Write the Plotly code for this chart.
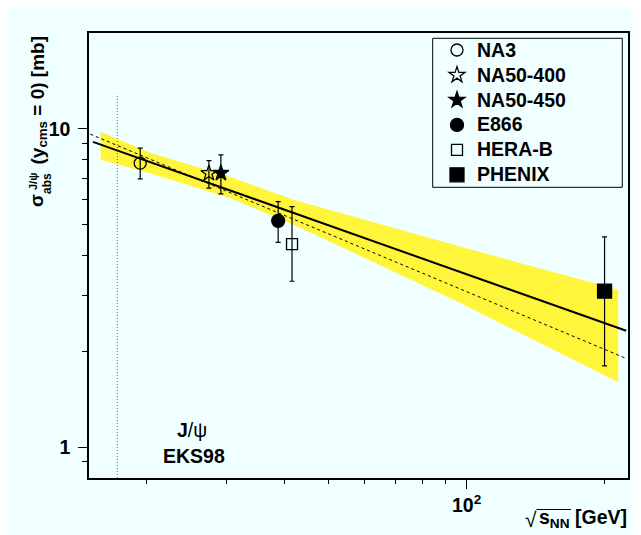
import math
import plotly.graph_objects as go

# ---------------- data ----------------
experiments = ["NA3", "NA50-400", "NA50-450", "E866", "HERA-B", "PHENIX"]
sqrt_s_nn = [19.4, 27.4, 29.1, 38.8, 41.6, 200.0]
sigma_abs = [7.80, 7.25, 7.26, 5.14, 4.34, 3.09]
err_plus = [0.90, 0.70, 1.02, 0.77, 1.36, 1.49]
err_minus = [0.84, 0.74, 1.01, 0.74, 1.02, 1.29]

band_x = [15.9, 20.3, 30.3, 42.1, 96.7, 214.3]
band_hi = [9.79, 8.42, 7.08, 5.98, 4.27, 3.12]
band_lo = [7.99, 7.26, 6.07, 4.99, 2.84, 1.60]

fit_x = [15.3, 223.0]
fit_y = [9.10, 2.32]
dash_x = [15.1, 221.0]
dash_y = [9.62, 1.91]

sps_x = [17.3, 17.3]
sps_y = [0.8, 12.9]

x_range = [15, 225]
y_range = [0.8, 20]
y_major = [1, 10]
y_major_text = ["1", "10"]
y_minor = [0.9, 2, 3, 4, 5, 6, 7, 8, 9]
x_major = [100]
x_major_text = ["10<sup>2</sup>"]
x_minor = [20, 30, 40, 50, 60, 70, 80, 90, 200]

# ---------------- styles ----------------
symbols = ["circle-open", "star-open", "star", "circle", "square-open", "square"]
msizes = [12, 12, 12, 13, 11, 14]
BG = "#F0FFFF"
YELLOW = "#FFF53B"
FONT = "Liberation Sans"


def lg(v):
    return math.log10(v)


fig = go.Figure()

fig.add_trace(go.Scatter(
    x=band_x + band_x[::-1], y=band_hi + band_lo[::-1],
    fill="toself", fillcolor=YELLOW, line=dict(width=0),
    mode="lines", showlegend=False, hoverinfo="skip"))

fig.add_trace(go.Scatter(x=sps_x, y=sps_y, mode="lines",
                         line=dict(color="#6e6e6e", width=1, dash="1px,2px"),
                         showlegend=False, hoverinfo="skip"))

fig.add_trace(go.Scatter(x=dash_x, y=dash_y, mode="lines",
                         line=dict(color="black", width=1, dash="3px,3px"),
                         showlegend=False))
fig.add_trace(go.Scatter(x=fit_x, y=fit_y, mode="lines",
                         line=dict(color="black", width=2),
                         showlegend=False))

for i, name in enumerate(experiments):
    fig.add_trace(go.Scatter(
        x=[sqrt_s_nn[i]], y=[sigma_abs[i]], mode="markers",
        name="<span style='font-size:19.5px'>" + name + "</span>",
        marker=dict(symbol=symbols[i], size=msizes[i], color="black",
                    line=dict(color="black", width=1.3)),
        error_y=dict(type="data", array=[err_plus[i]], arrayminus=[err_minus[i]],
                     color="black", thickness=1.2, width=2.5),
    ))

OFF = 8  # page body margin
W, H = 641, 535
L, T = 89 - OFF, 33 - OFF
pw, ph = 539, 445
R = W - L - pw
B = H - T - ph


def px2paper(px, py):
    """page pixel coords -> paper coords"""
    fx, fy = px - OFF, py - OFF
    return (fx - L) / pw, (T + ph - fy) / ph


shapes = []
lx0, ly0 = px2paper(432.7, 38.3)
lx1, ly1 = px2paper(622.3, 187.3)
shapes.append(dict(type="rect", xref="paper", yref="paper", x0=lx0, x1=lx1, y0=ly1, y1=ly0,
                   line=dict(color="black", width=1), fillcolor="rgba(0,0,0,0)"))
# overline of the square root in the x title
ox0, oy = px2paper(536.5, 509.5)
ox1, _ = px2paper(571, 509.5)
shapes.append(dict(type="line", xref="paper", yref="paper", x0=ox0, x1=ox1, y0=oy, y1=oy,
                   line=dict(color="black", width=1.2)))

annotations = []


def ann(text, px, py, size=19, xanchor="center", yanchor="middle", angle=0, bold=True):
    ax, ay = px2paper(px, py)
    annotations.append(dict(text=text, x=ax, y=ay, xref="paper", yref="paper",
                            showarrow=False, xanchor=xanchor, yanchor=yanchor,
                            textangle=angle,
                            font=dict(family=FONT, size=size, color="black",
                                      weight="bold" if bold else "normal")))


ann("<b>J</b>/ψ", 192, 430, size=19.5, bold=False)
ann("EKS98", 194, 456, size=19.5)
ann("s<sub>NN</sub> [GeV]", 629, 518, size=19.5, xanchor="right")
ann("√", 531, 519, size=21, bold=False)
ann("(y<sub>cms</sub> = 0) [mb]", 24, 34, size=19, xanchor="left", yanchor="top", angle=-90)
ann("σ", 24, 209, size=19, xanchor="left", yanchor="bottom", angle=-90)
ann("J/ψ", 33, 181, size=11, angle=-90)
ann("abs", 47, 184, size=12, angle=-90)

fig.update_layout(
    width=W, height=H, margin=dict(l=L, r=R, t=T, b=B),
    paper_bgcolor=BG, plot_bgcolor=BG,
    font=dict(family=FONT, size=19, color="black", weight="bold"),
    showlegend=True,
    legend=dict(x=px2paper(437, 0)[0], y=px2paper(0, 32.5)[1], xanchor="left", yanchor="top",
                bgcolor="rgba(0,0,0,0)", borderwidth=0,
                font=dict(family=FONT, size=16.9, color="black", weight="bold"),
                itemwidth=30, tracegroupgap=0),
    shapes=shapes, annotations=annotations,
    xaxis=dict(type="log", range=[lg(x_range[0]), lg(x_range[1])],
               showgrid=False, zeroline=False,
               showline=True, linecolor="black", linewidth=1.5, mirror=True,
               tickmode="array", tickvals=x_major, ticktext=x_major_text,
               ticks="outside", ticklen=9, tickwidth=1, tickcolor="black",
               ticklabelstandoff=0,
               minor=dict(tickmode="array", tickvals=x_minor, ticks="outside",
                          ticklen=4, tickwidth=1, tickcolor="black", showgrid=False),
               tickfont=dict(family=FONT, size=19.5, weight="bold")),
    yaxis=dict(type="log", range=[lg(y_range[0]), lg(y_range[1])],
               showgrid=False, zeroline=False,
               showline=True, linecolor="black", linewidth=1.5, mirror=True,
               tickmode="array", tickvals=y_major, ticktext=y_major_text,
               ticks="outside", ticklen=9, tickwidth=1, tickcolor="black",
               ticklabelstandoff=4,
               minor=dict(tickmode="array", tickvals=y_minor, ticks="outside",
                          ticklen=5, tickwidth=1, tickcolor="black", showgrid=False),
               tickfont=dict(family=FONT, size=19.5, weight="bold")),
)

fig.write_html("out.html")
